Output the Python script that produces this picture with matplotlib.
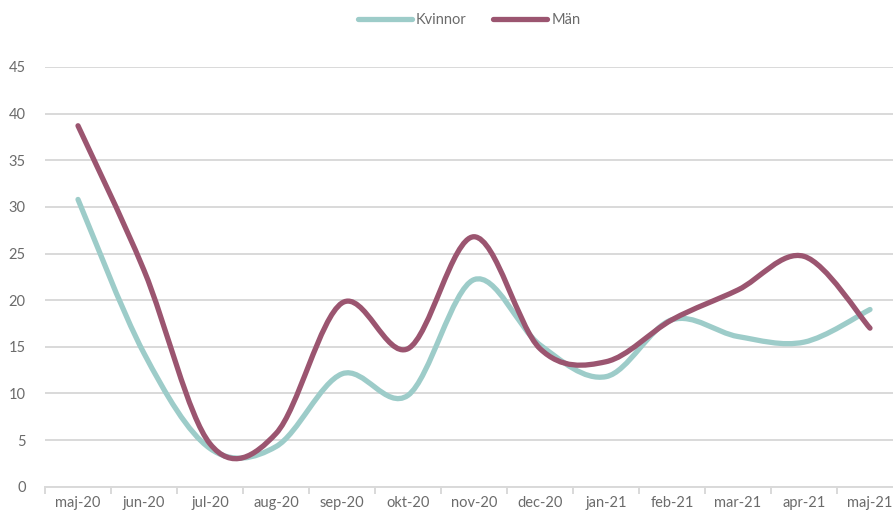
import matplotlib.pyplot as plt
from matplotlib.path import Path
from matplotlib.patches import PathPatch
from matplotlib.lines import Line2D
import numpy as np

months = ['maj-20', 'jun-20', 'jul-20', 'aug-20', 'sep-20', 'okt-20', 'nov-20',
          'dec-20', 'jan-21', 'feb-21', 'mar-21', 'apr-21', 'maj-21']
kvinnor = [30.8, 14.3, 4.1, 4.3, 12.1, 9.8, 22.2, 15.2, 11.8, 17.9, 16.1, 15.5, 19.0]
man = [38.7, 23.2, 4.6, 5.7, 19.7, 14.8, 26.8, 14.8, 13.4, 17.9, 21.1, 24.7, 17.0]

c_kv = '#9dccc9'
c_man = '#9b5570'
txt = '#6b6b6b'
grid_c = '#d9d9d9'

plt.rcParams['font.family'] = ['Lato', 'DejaVu Sans']


def smooth_path(xs, ys):
    # Excel-like smoothed line: cubic bezier through every point
    pts = np.column_stack([xs, ys]).astype(float)
    n = len(pts)
    verts = [pts[0]]
    codes = [Path.MOVETO]
    for i in range(n - 1):
        p0 = pts[i - 1] if i > 0 else pts[i]
        p1 = pts[i]
        p2 = pts[i + 1]
        p3 = pts[i + 2] if i + 2 < n else pts[i + 1]
        c1 = p1 + (p2 - p0) / 6.0
        c2 = p2 - (p3 - p1) / 6.0
        verts += [c1, c2, p2]
        codes += [Path.CURVE4] * 3
    return Path(verts, codes)


fig = plt.figure(figsize=(8.93, 5.14), dpi=100)
ax = fig.add_axes([45 / 893, 27.3 / 514, 858 / 893, 419.7 / 514])

x = np.arange(len(months))
for vals, col in [(kvinnor, c_kv), (man, c_man)]:
    ax.add_patch(PathPatch(smooth_path(x, vals), facecolor='none', edgecolor=col,
                           lw=3.8, capstyle='round', joinstyle='round', zorder=3))

ax.set_xlim(-0.5, len(months) - 0.5)
ax.set_ylim(0, 45)
ax.set_yticks(range(0, 50, 5))
ax.yaxis.grid(True, color=grid_c, lw=1.4)
ax.set_axisbelow(True)

ax.set_xticks(x)
ax.set_xticklabels(months)
ax.set_xticks(np.arange(-0.5, len(months), 1), minor=True)
ax.tick_params(axis='x', which='major', length=0, pad=7, labelsize=10.5, colors=txt)
ax.tick_params(axis='x', which='minor', length=5, width=1.4, color=grid_c)
ax.tick_params(axis='y', length=0, pad=14, labelsize=10.5, colors=txt)

for s in ['top', 'right', 'left']:
    ax.spines[s].set_visible(False)
ax.spines['bottom'].set_color(grid_c)
ax.spines['bottom'].set_linewidth(1.4)

handles = [Line2D([], [], color=c_kv, lw=3.8, solid_capstyle='round'),
           Line2D([], [], color=c_man, lw=3.8, solid_capstyle='round')]
fig.legend(handles, ['Kvinnor', 'Män'], loc='center', bbox_to_anchor=(469 / 893, 1 - 20 / 514),
           ncol=2, frameon=False, fontsize=10.5, labelcolor=txt, handlelength=3.7,
           handletextpad=0.3, columnspacing=1.8)

fig.savefig('out.png', dpi=100)
